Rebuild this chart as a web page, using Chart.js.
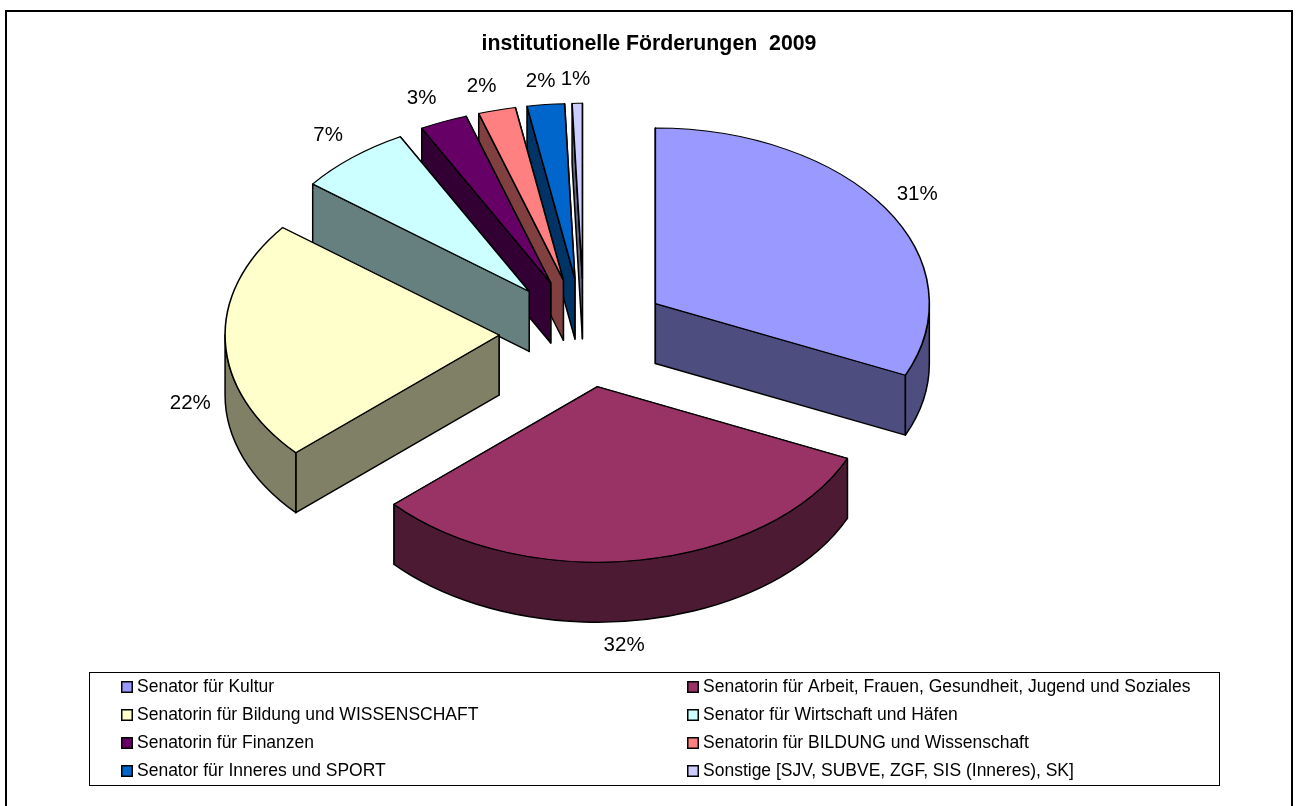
<!DOCTYPE html>
<html><head><meta charset="utf-8">
<style>html,body{margin:0;padding:0;background:#fff}canvas{display:block}</style>
<script src="https://cdn.jsdelivr.net/npm/chart.js@4/dist/chart.umd.min.js"></script>
</head><body>
<div style="width:1298px;height:806px;position:relative"><canvas id="c" width="1298" height="806"></canvas></div>
<script>
const titleText = 'institutionelle Förderungen  2009';
const categories = ['Senator für Kultur','Senatorin für Arbeit, Frauen, Gesundheit, Jugend und Soziales','Senatorin für Bildung und WISSENSCHAFT','Senator für Wirtschaft und Häfen','Senatorin für Finanzen','Senatorin für BILDUNG und Wissenschaft','Senator für Inneres und SPORT','Sonstige [SJV, SUBVE, ZGF, SIS (Inneres), SK]'];
const shares = [31.7,31.6,22.2,6.7,2.8,2.2,2.2,0.6];
const percentLabels = ['31%','32%','22%','7%','3%','2%','2%','1%'];
const topColors = ['#9999FF','#993366','#FFFFCC','#CCFFFF','#660066','#FF8080','#0066CC','#CCCCFF'];
const wallColors = ['#4D4D80','#4D1A33','#808066','#668080','#330033','#804040','#003366','#666680'];
const wallOrder = [7,6,5,4,3,2,0,1];
const labelNudgeX = [0,-22,3,0,-7,-6,-1,-1];
const labelNudgeY = [-1,1,1,-3,-1,0,1,0];

const TILT = 0.64, DEPTH = 60, EXPLODE = 85, RADIUS = 274, PIE_SHIFT = -65;

function pivotY(chart){ return (chart.chartArea.top+chart.chartArea.bottom)/2; }
function geom(chart,i){
  const a = chart.getDatasetMeta(0).data[i], cy=pivotY(chart);
  return {ax:a.x,ay:cy+(a.y-cy)*TILT,s:a.startAngle,e:a.endAngle,mid:(a.startAngle+a.endAngle)/2,r:RADIUS};
}
const threeD = {
  id:'threeD',
  afterDatasetsUpdate(chart){
    // explode every slice by the same distance along its own middle direction
    chart.getDatasetMeta(0).data.forEach(a=>{
      const mid=(a.startAngle+a.endAngle)/2;
      a.x+=PIE_SHIFT+Math.cos(mid)*EXPLODE;
      a.y+=Math.sin(mid)*EXPLODE;
    });
  },
  beforeDatasetsDraw(chart){
    const ctx=chart.ctx;
    ctx.save();ctx.lineWidth=1.5;ctx.strokeStyle='#000';ctx.lineJoin='round';
    wallOrder.forEach(i=>{
      const g=geom(chart,i);
      ctx.fillStyle=wallColors[i];
      [g.s,g.e].sort((p,q)=>Math.sin(p)-Math.sin(q)).forEach(t=>{
        const x=g.ax+Math.cos(t)*g.r,y=g.ay+Math.sin(t)*g.r*TILT;
        ctx.beginPath();ctx.moveTo(g.ax,g.ay);ctx.lineTo(x,y);ctx.lineTo(x,y+DEPTH);ctx.lineTo(g.ax,g.ay+DEPTH);ctx.closePath();ctx.fill();ctx.stroke();
      });
      const a1=Math.max(g.s,0),a2=Math.min(g.e,Math.PI);
      if(a2>a1){
        ctx.beginPath();ctx.ellipse(g.ax,g.ay,g.r,g.r*TILT,0,a1,a2);
        ctx.ellipse(g.ax,g.ay+DEPTH,g.r,g.r*TILT,0,a2,a1,true);ctx.closePath();ctx.fill();ctx.stroke();
      }
    });
    ctx.restore();
    const cy=pivotY(chart);
    ctx.save();ctx.translate(0,cy);ctx.scale(1,TILT);ctx.translate(0,-cy);
  },
  afterDatasetsDraw(chart){
    const ctx=chart.ctx;
    ctx.restore();
    ctx.save();
    ctx.fillStyle='#000';ctx.font='20.5px "Liberation Sans"';ctx.textAlign='center';ctx.textBaseline='middle';
    percentLabels.forEach((t,i)=>{
      const g=geom(chart,i);
      const R=g.r+38;
      const x=g.ax+Math.cos(g.mid)*R, y=g.ay+Math.sin(g.mid)*R*TILT+(Math.sin(g.mid)>-0.1?DEPTH:0);
      ctx.fillText(t,x+labelNudgeX[i],y+labelNudgeY[i]);
    });
    ctx.restore();
  },
  afterDraw(chart){
    const ctx=chart.ctx;
    ctx.save();
    ctx.fillStyle='#000';
    ctx.fillRect(5,10,2,796);ctx.fillRect(5,10,1288,2);ctx.fillRect(1291,10,2,796);
    ctx.strokeStyle='#000';ctx.lineWidth=1;ctx.strokeRect(89.5,672.5,1130,113);
    ctx.font='17.5px "Liberation Sans"';ctx.textBaseline='middle';ctx.textAlign='left';
    const colX=[122,688],rowY=[687,715,743,771];
    categories.forEach((t,i)=>{
      const x=colX[i%2],y=rowY[Math.floor(i/2)];
      ctx.fillStyle=topColors[i];ctx.fillRect(x,y-5,10,10);
      ctx.strokeStyle='#000';ctx.lineWidth=1.5;ctx.strokeRect(x-.25,y-5.25,10.5,10.5);
      ctx.fillStyle='#000';ctx.fillText(t,x+15,y+.5);
    });
    ctx.restore();
  }
};
new Chart(document.getElementById('c'),{
  type:'pie',
  data:{labels:categories,datasets:[{data:shares,backgroundColor:topColors,borderColor:'#000',borderWidth:1.6,borderAlign:'center',clip:false}]},
  plugins:[threeD],
  options:{
    responsive:false,animation:false,radius:RADIUS,
    layout:{padding:{left:0,right:0,top:0,bottom:203}},
    plugins:{
      legend:{display:false},tooltip:{enabled:false},
      title:{display:true,text:titleText,color:'#000',font:{family:'"Liberation Sans"',size:21.3,weight:'bold',lineHeight:1.2},padding:{top:31.5,bottom:6}}
    }
  }
});
</script>
</body></html>
